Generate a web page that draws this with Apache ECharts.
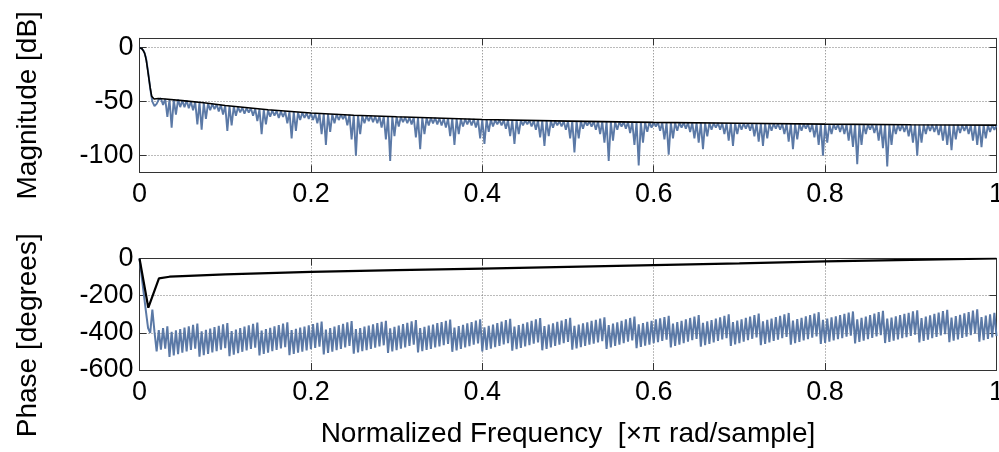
<!DOCTYPE html>
<html>
<head>
<meta charset="utf-8">
<script src="https://cdn.jsdelivr.net/npm/echarts@6/dist/echarts.min.js"></script>
<style>html,body{margin:0;padding:0;background:#fff}#c{width:999px;height:452px}</style>
</head>
<body>
<div id="c"></div>
<script>
// ---------- DATA ----------
const FREQ_STEP = 0.0025; // sample spacing of the blue (noisy) responses, x = i * step
const xTicks = [0, 0.2, 0.4, 0.6, 0.8, 1];
const magTicks = [0, -50, -100];
const phaseTicks = [0, -200, -400, -600];

// Magnitude [dB], blue response (401 samples)
const magBlue = [
0,-1,-3,-9,-22,-38,-50,-54,-52,-48,-47,-53,-47.5,-64,-48,-74,-48,-62,-48,-55,
-49,-55,-49,-56,-50,-58,-50,-71,-50.5,-76,-51,-66,-51.5,-58,-52,-57,-52.5,-59,-53,-62,
-53.5,-77,-54,-72,-54.5,-63,-55,-60,-55.5,-61,-56,-60,-56,-63,-56.5,-68,-57,-80,-57.5,-71,
-58,-64,-58,-63,-58.5,-65,-59,-64,-59,-70,-59.5,-84,-59.5,-77,-60,-67,-60,-65,-60.5,-66,
-60.5,-67,-61,-70,-61,-80,-61,-90,-61.5,-78,-61.5,-70,-61.5,-67,-62,-66,-62,-72,-62,-85,
-62.5,-100,-62.5,-80,-63,-70,-63,-68,-63,-69,-63.5,-70,-63.5,-74,-63.5,-85,-64,-105,-64,-82,
-64,-73,-64,-69,-64.5,-70,-64.5,-71,-64.5,-83,-65,-94,-65,-80,-65,-72,-65,-70,-65,-71,
-65.3,-72,-65.5,-74,-65.5,-82,-65.5,-90,-66,-80,-66,-73,-66,-71,-66,-72,-66,-74,-66.5,-84,
-66.5,-89,-66.5,-78,-66.5,-73,-67,-71,-67,-72,-67,-75,-67,-82,-67,-89,-67,-80,-67.3,-72,
-67.3,-71,-67.3,-73,-67.5,-76,-67.5,-83,-67.5,-91,-67.5,-82,-67.7,-74,-67.7,-72,-68,-73,-68,-76,
-68,-84,-68,-97,-68,-84,-68,-75,-68.2,-72,-68.2,-73,-68.3,-76,-68.3,-80,-68.4,-88,-68.5,-105,
-68.6,-86,-68.6,-76,-68.7,-73,-68.7,-75,-68.8,-79,-68.8,-90,-68.9,-109,-69,-88,-69,-78,-69.1,-74,
-69.2,-73,-69.2,-77,-69.3,-85,-69.3,-99,-69.3,-84,-69.4,-77,-69.4,-74,-69.4,-75,-69.5,-78,-69.5,-84,
-69.6,-88,-69.6,-94,-69.7,-82,-69.7,-76,-69.8,-74,-69.8,-76,-69.8,-80,-69.9,-86,-69.9,-91,-70,-80,
-70,-76,-70,-75,-70.1,-77,-70.1,-82,-70.2,-87,-70.2,-91,-70.2,-84,-70.3,-77,-70.3,-75,-70.4,-76,
-70.4,-80,-70.4,-87,-70.5,-94,-70.5,-85,-70.5,-77,-70.6,-75,-70.6,-78,-70.7,-83,-70.7,-90,-70.8,-100,
-70.8,-88,-70.8,-80,-70.9,-76,-70.9,-78,-70.9,-80,-71,-86,-71,-92,-71,-108,-71,-90,-71.1,-80,
-71.1,-76,-71.1,-79,-71.2,-86,-71.2,-93,-71.2,-110,-71.2,-90,-71.2,-80,-71.3,-77,-71.3,-78,-71.3,-82,
-71.3,-88,-71.3,-100,-71.4,-88,-71.4,-80,-71.4,-77,-71.4,-78,-71.4,-81,-71.5,-86,-71.5,-90,-71.5,-95,
-71.5,-85,-71.5,-79,-71.6,-77,-71.6,-80,-71.6,-86,-71.6,-90,-71.7,-92,-71.7,-84,-71.7,-78,-71.7,-76,-71.7
];

// Magnitude [dB], black response
const magBlackFreq = [0,0.003,0.006,0.008,0.0103,0.0125,0.0142,0.017,0.022,0.03,0.05,0.075,0.1,0.15,0.2,0.25,0.3,0.4,0.5,0.6,0.7,0.8,0.9,1.0];
const magBlackVal  = [0,-1,-5,-12,-25,-37,-45,-47.5,-47,-47.5,-49,-51,-53.5,-57.5,-60.5,-62.5,-64,-66.5,-68,-69.2,-70,-70.8,-71.3,-71.7];

// Phase [degrees], blue response (401 samples)
const phaseBlue = [
0,-95,-190,-285,-375,-400,-275,-395,-500,-385,-490,-375,-485,-365,
-530,-395,-522,-387,-515,-380,-507,-372,-500,-365,-492,-357,-485,-350,
-528,-392,-520,-384,-513,-377,-505,-369,-498,-362,-490,-354,-483,-347,
-525,-390,-517,-382,-510,-375,-502,-367,-495,-360,-487,-352,-480,-345,
-522,-388,-514,-380,-507,-373,-499,-365,-492,-358,-484,-350,-477,-343,
-520,-385,-514,-379,-507,-372,-501,-366,-494,-359,-488,-353,-481,-346,-475,-340,
-516,-382,-508,-374,-501,-367,-493,-359,-486,-352,-478,-344,-471,-337,
-512,-380,-506,-374,-499,-367,-493,-361,-486,-354,-480,-348,-473,-341,-467,-335,
-508,-376,-500,-368,-493,-361,-485,-353,-478,-346,-470,-338,-463,-331,
-505,-374,-499,-368,-492,-361,-486,-355,-479,-348,-473,-342,-466,-335,-460,-329,
-502,-372,-494,-364,-487,-357,-479,-349,-472,-342,-464,-334,-457,-327,
-500,-370,-492,-362,-485,-355,-477,-347,-470,-340,-462,-332,-455,-325,
-496,-366,-488,-358,-481,-351,-473,-343,-466,-336,-458,-328,-451,-321,
-494,-364,-486,-356,-479,-349,-471,-341,-464,-334,-456,-326,-449,-319,
-490,-362,-484,-356,-477,-349,-471,-343,-464,-336,-458,-330,-451,-323,-445,-317,
-486,-358,-478,-350,-471,-343,-463,-335,-456,-328,-448,-320,-441,-313,
-482,-354,-476,-348,-469,-341,-463,-335,-456,-328,-450,-322,-443,-315,-437,-309,
-478,-350,-470,-342,-463,-335,-455,-327,-448,-320,-440,-312,-433,-305,
-474,-346,-466,-338,-459,-331,-451,-323,-444,-316,-436,-308,-429,-301,
-470,-342,-462,-334,-455,-327,-447,-319,-440,-312,-432,-304,-425,-297,
-467,-338,-459,-330,-452,-323,-444,-315,-437,-308,-429,-300,-422,-293,
-464,-334,-456,-326,-449,-319,-441,-311,-434,-304,-426,-296,-419,-289,
-460,-330,-454,-324,-447,-317,-441,-311,-434,-304,-428,-298,-421,-291,-415,-285,
-457,-327,-449,-319,-442,-312,-434,-304,-427,-297,-419,-289,-412,-282,
-455,-324,-449,-318,-442,-311,-436,-305,-429,-298,-423,-292,-416,-285,-410,-279,
-452,-321,-444,-313,-437,-306,-429,-298,-422,-291,-414,-283,-407,-276,
-450,-318,-442,-310,-435,-303,-427,-295,-420,-288,-412,-280,-405,-273,
-448,-315,-440,-307,-433,-300,-425,-292,-418
];

// Phase [degrees], black response
const phaseBlackFreq = [0,0.0103,0.0227,0.035,0.05,0.1,0.2,0.3,0.4,0.5,0.6,0.7,0.8,0.9,1.0];
const phaseBlackVal  = [0,-265,-107,-98,-95,-85,-72,-63,-54,-45,-36,-26,-15,-7,0];

// ---------- CHART ----------
const FONT = '"Liberation Sans", Arial, Helvetica, sans-serif';
const BLUE = '#5b79a6';
const AX = '#333';
const TICK_FS = 27;

const toPairs = (vals) => vals.map((v, i) => [+(i * FREQ_STEP).toFixed(4), v]);
const zip = (xs, ys) => xs.map((x, i) => [x, ys[i]]);

function xAx(grid, pos, labels, name) {
  return {
    type: 'value', gridIndex: grid, position: pos, min: 0, max: 1, interval: 0.2,
    axisLine: { show: true, onZero: false, lineStyle: { color: AX, width: 1 } },
    axisTick: { show: true, inside: true, length: 7, lineStyle: { color: AX } },
    axisLabel: { show: labels, fontSize: TICK_FS, fontFamily: FONT, color: '#000', margin: 9,
      formatter: v => xTicks.some(t => Math.abs(t - v) < 1e-9) ? String(+v.toFixed(1)) : '' },
    splitLine: { show: labels, lineStyle: { color: '#777', type: [1, 2], width: 1 } },
    name: name || '', nameLocation: 'middle', nameGap: 50,
    nameTextStyle: { fontSize: 28, fontFamily: FONT, color: '#000' }
  };
}

const option = {
  animation: false,
  backgroundColor: '#fff',
  grid: [
    { left: 139.5, top: 38.3, width: 857, height: 134, show: false, containLabel: false, outerBoundsMode: 'none' },
    { left: 139.5, top: 258.5, width: 857, height: 111.5, show: false, containLabel: false, outerBoundsMode: 'none' }
  ],
  xAxis: [
    xAx(0, 'bottom', true),
    xAx(0, 'top', false),
    xAx(1, 'bottom', true, 'Normalized Frequency  [\u00d7\u03c0 rad/sample]'),
    xAx(1, 'top', false)
  ],
  yAxis: [
    {
      type: 'value', gridIndex: 0, position: 'left', min: -115.4, max: 8.7,
      splitNumber: 2, minInterval: 50, maxInterval: 50,
      axisLine: { show: true, onZero: false, lineStyle: { color: AX } },
      axisTick: { show: true, inside: true, length: 7, lineStyle: { color: AX } },
      axisLabel: { fontSize: TICK_FS, fontFamily: FONT, color: '#000', margin: 6,
        showMinLabel: false, showMaxLabel: false,
        formatter: v => magTicks.includes(v) ? String(v) : '' },
      splitLine: { show: true, lineStyle: { color: '#777', type: [1, 2], width: 1 } },
      name: 'Magnitude [dB]', nameLocation: 'middle', nameRotate: 90, nameGap: 97,
      nameTextStyle: { fontSize: 28, fontFamily: FONT, color: '#000' }
    },
    {
      type: 'value', gridIndex: 0, position: 'right', min: -115.4, max: 8.7,
      splitNumber: 2, minInterval: 50, maxInterval: 50,
      axisLine: { show: true, onZero: false, lineStyle: { color: AX } },
      axisTick: { show: true, inside: true, length: 7, lineStyle: { color: AX } },
      axisLabel: { show: false }, splitLine: { show: false }
    },
    {
      type: 'value', gridIndex: 1, position: 'left', min: -600, max: 0, interval: 200,
      axisLine: { show: true, onZero: false, lineStyle: { color: AX } },
      axisTick: { show: true, inside: true, length: 7, lineStyle: { color: AX } },
      axisLabel: { fontSize: TICK_FS, fontFamily: FONT, color: '#000', margin: 6,
        formatter: v => phaseTicks.includes(v) ? String(v) : '' },
      splitLine: { show: true, lineStyle: { color: '#777', type: [1, 2], width: 1 } },
      name: 'Phase [degrees]', nameLocation: 'middle', nameRotate: 90, nameGap: 97,
      nameTextStyle: { fontSize: 28, fontFamily: FONT, color: '#000', padding: [0, 42, 0, 0] }
    },
    {
      type: 'value', gridIndex: 1, position: 'right', min: -600, max: 0, interval: 200,
      axisLine: { show: true, onZero: false, lineStyle: { color: AX } },
      axisTick: { show: true, inside: true, length: 7, lineStyle: { color: AX } },
      axisLabel: { show: false }, splitLine: { show: false }
    }
  ],
  series: [
    { name: 'magBlue', type: 'line', xAxisIndex: 0, yAxisIndex: 0, data: toPairs(magBlue),
      showSymbol: false, symbol: 'none', lineStyle: { color: BLUE, width: 1.9 }, z: 2, clip: true },
    { name: 'magBlack', type: 'line', xAxisIndex: 0, yAxisIndex: 0, data: zip(magBlackFreq, magBlackVal),
      showSymbol: false, symbol: 'none', lineStyle: { color: '#000', width: 1.6 }, z: 3, clip: true },
    { name: 'phaseBlue', type: 'line', xAxisIndex: 2, yAxisIndex: 2, data: toPairs(phaseBlue),
      showSymbol: false, symbol: 'none', lineStyle: { color: BLUE, width: 2 }, z: 2, clip: true },
    { name: 'phaseBlack', type: 'line', xAxisIndex: 2, yAxisIndex: 2, data: zip(phaseBlackFreq, phaseBlackVal),
      showSymbol: false, symbol: 'none', lineStyle: { color: '#000', width: 2.2 }, z: 3, clip: true }
  ]
};

const chart = echarts.init(document.getElementById('c'), null, { renderer: 'canvas' });
chart.setOption(option);
</script>
</body>
</html>
